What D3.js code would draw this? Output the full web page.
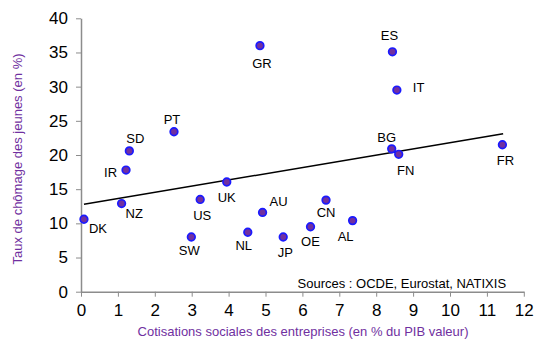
<!DOCTYPE html>
<html>
<head>
<meta charset="utf-8">
<script src="https://cdn.jsdelivr.net/npm/d3@7"></script>
<style>
  body { margin: 0; background: #fff; }
  svg { display: block; font-family: "Liberation Sans", Arial, sans-serif; }
  .axis path, .axis line { stroke: #8c8c8c; }
  .axis text { font-size: 17px; fill: #000; }
</style>
</head>
<body>
<div class="container"></div>
<script>
// country codes
const countries = ['DK', 'NZ', 'IR', 'SD', 'PT', 'SW', 'US', 'UK', 'NL', 'AU', 'GR',
  'JP', 'OE', 'CN', 'AL', 'ES', 'IT', 'BG', 'FN', 'FR'];
// employer social contributions (% of GDP)
const cotisations = [0.08, 1.10, 1.22, 1.31, 2.52, 2.99, 3.23, 3.95, 4.52, 4.92, 4.85,
  5.48, 6.22, 6.64, 7.36, 8.44, 8.56, 8.42, 8.61, 11.42];
// youth unemployment rate (%)
const chomage = [10.6, 12.9, 17.8, 20.6, 23.4, 8.0, 13.5, 16.05, 8.7, 11.6, 36.0,
  8.0, 9.5, 13.4, 10.4, 35.1, 29.5, 20.9, 20.1, 21.5];
// trend line end points
const trendX = [0.08, 11.44];
const trendY = [12.8, 23.1];
const xTicks = [0, 1, 2, 3, 4, 5, 6, 7, 8, 9, 10, 11, 12];
const yTicks = [0, 5, 10, 15, 20, 25, 30, 35, 40];

// label placement relative to each point: [dx, dy, anchor]
const labelPos = {
  DK: [5, 14, 'start'], NZ: [4, 14, 'start'], IR: [-9, 7, 'end'], SD: [6, -8, 'middle'],
  PT: [-2, -8, 'middle'], SW: [-2, 18, 'middle'], US: [2, 21, 'middle'], UK: [0, 20, 'middle'],
  NL: [-4, 18, 'middle'], AU: [7, -6, 'start'], GR: [2, 22, 'middle'], JP: [2, 20, 'middle'],
  OE: [0, 19, 'middle'], CN: [0, 17, 'middle'], AL: [-7, 20, 'middle'], ES: [-3, -12, 'middle'],
  IT: [16, 2, 'start'], BG: [-5, -7, 'middle'], FN: [7, 21, 'middle'], FR: [3, 20, 'middle']
};

const margin = { top: 18.3, right: 10, bottom: 48, left: 81 },
  width = 442.8,
  height = 273.4;

const x = d3.scaleLinear().domain([0, 12]).range([0, width]);
const y = d3.scaleLinear().domain([0, 40]).range([height, 0]);

const svg = d3.select('.container').append('svg')
  .attr('width', 534)
  .attr('height', 340);

const g = svg.append('g')
  .attr('transform', `translate(${margin.left},${margin.top})`);

// axes
g.append('g')
  .attr('class', 'axis')
  .attr('transform', `translate(0,${height})`)
  .call(d3.axisBottom(x).tickValues(xTicks).tickSize(5).tickSizeOuter(0).tickPadding(7))
  .selectAll('text').attr('dy', '0.72em');

g.append('g')
  .attr('class', 'axis')
  .call(d3.axisLeft(y).tickValues(yTicks).tickSize(5).tickSizeOuter(0).tickPadding(8));

g.selectAll('.axis path').attr('stroke-width', 1.5);

// trend line
const line = d3.line().x(d => x(d[0])).y(d => y(d[1]));
g.append('path')
  .datum(trendX.map((v, i) => [v, trendY[i]]))
  .attr('d', line)
  .attr('fill', 'none')
  .attr('stroke', '#000')
  .attr('stroke-width', 1.5);

// points
const data = countries.map((c, i) => ({ c, x: cotisations[i], y: chomage[i] }));

g.selectAll('circle')
  .data(data)
  .enter().append('circle')
  .attr('cx', d => x(d.x))
  .attr('cy', d => y(d.y))
  .attr('r', 3.8)
  .attr('fill', '#7030a0')
  .attr('stroke', '#1a1aff')
  .attr('stroke-width', 1.7);

g.selectAll('.lbl')
  .data(data)
  .enter().append('text')
  .attr('class', 'lbl')
  .attr('x', d => x(d.x) + labelPos[d.c][0])
  .attr('y', d => y(d.y) + labelPos[d.c][1])
  .attr('text-anchor', d => labelPos[d.c][2])
  .attr('font-size', 13)
  .text(d => d.c);

// source
g.append('text')
  .attr('x', x(11.52))
  .attr('y', height - 4)
  .attr('text-anchor', 'end')
  .attr('font-size', 13)
  .text('Sources : OCDE, Eurostat, NATIXIS');

// axis titles
svg.append('text')
  .attr('x', 303)
  .attr('y', 336)
  .attr('text-anchor', 'middle')
  .attr('font-size', 13)
  .attr('fill', '#7030a0')
  .text('Cotisations sociales des entreprises (en % du PIB valeur)');

svg.append('text')
  .attr('transform', 'translate(22,159) rotate(-90)')
  .attr('text-anchor', 'middle')
  .attr('font-size', 13)
  .attr('fill', '#7030a0')
  .text('Taux de chômage des jeunes (en %)');
</script>
</body>
</html>
